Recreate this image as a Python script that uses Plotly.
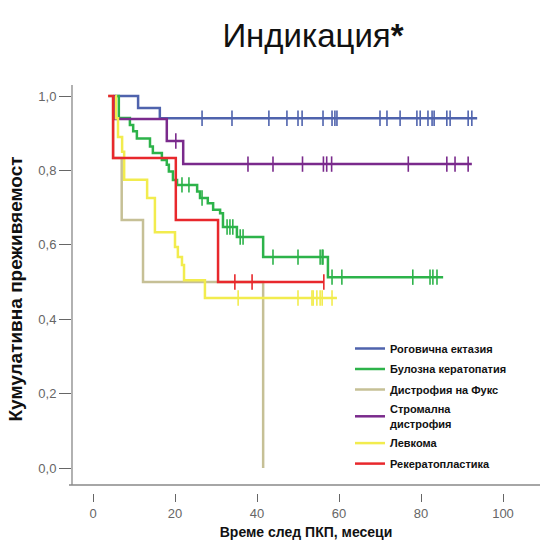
import plotly.graph_objects as go

# ---------------- data ----------------
names = ["Роговична ектазия", "Булозна кератопатия", "Дистрофия на Фукс",
         "Стромална<br>дистрофия", "Левкома", "Рекератопластика"]
colors = ["#4f63ad", "#2db34a", "#c6c096", "#7a2a8c", "#f2ec4e", "#e8282c"]

blue_t = [5.4, 11.0, 16.3, 93.7]
blue_s = [1.0, 0.968, 0.940, 0.940]
blue_c = [26.6, 33.9, 42.9, 47.3, 50.0, 51.0, 56.1, 58.3, 59.0, 59.5, 70.0, 71.7,
          74.9, 79.0, 79.8, 81.7, 82.7, 83.2, 86.3, 87.1, 91.5, 92.4]

green_t = [5.9, 6.3, 9.0, 9.8, 10.7, 13.9, 14.6, 16.8, 18.0, 18.5, 19.5, 20.5,
           25.4, 26.1, 28.0, 29.3, 31.0, 31.7, 35.1, 41.5, 57.3, 85.4]
green_s = [1.0, 0.941, 0.922, 0.905, 0.886, 0.864, 0.847, 0.828, 0.815, 0.797, 0.774, 0.761,
           0.743, 0.726, 0.712, 0.694, 0.685, 0.648, 0.621, 0.567, 0.513, 0.513]
green_c = [21.7, 23.4, 26.6, 32.7, 33.4, 34.1, 35.9, 36.6, 43.9, 50.0, 55.4, 55.9,
           56.1, 58.3, 60.7, 78.0, 82.2, 82.9, 83.9]

fuchs_t = [3.7, 4.9, 7.0, 12.2, 41.5]
fuchs_s = [1.0, 0.833, 0.667, 0.5, 0.0]
fuchs_c = []

purple_t = [5.0, 5.4, 18.0, 22.0, 92.4]
purple_s = [1.0, 0.938, 0.879, 0.817, 0.817]
purple_c = [20.2, 37.8, 43.9, 51.1, 56.2, 57.0, 58.2, 76.9, 86.3, 88.3, 91.5]

yellow_t = [5.4, 5.6, 6.1, 7.1, 7.6, 13.2, 15.1, 20.0, 20.7, 21.7, 22.2, 27.3, 59.5]
yellow_s = [1.0, 0.94, 0.89, 0.85, 0.775, 0.726, 0.634, 0.594, 0.567, 0.546, 0.505, 0.457, 0.457]
yellow_c = [35.4, 50.0, 53.4, 53.7, 54.6, 55.4, 55.9, 58.3]

red_t = [3.7, 4.9, 20.2, 30.5, 56.3]
red_s = [1.0, 0.833, 0.667, 0.5, 0.5]
red_c = [34.6, 38.8, 56.3]

x_ticks = [0, 20, 40, 60, 80, 100]
y_ticks = [0.0, 0.2, 0.4, 0.6, 0.8, 1.0]

series = [(blue_t, blue_s, blue_c), (green_t, green_s, green_c), (fuchs_t, fuchs_s, fuchs_c),
          (purple_t, purple_s, purple_c), (yellow_t, yellow_s, yellow_c), (red_t, red_s, red_c)]


def surv_at(ts, ss, t):
    v = ss[0]
    for ti, si in zip(ts, ss):
        if ti <= t:
            v = si
    return v


FONT = "Liberation Sans, Arial, sans-serif"
fig = go.Figure()
for i, (name, col, (ts, ss, cs)) in enumerate(zip(names, colors, series)):
    fig.add_trace(go.Scatter(x=ts, y=ss, mode="lines", line=dict(color=col, width=2.5, shape="hv"),
                             name="<b>" + name + "</b>", showlegend=True, legendgroup="g%d" % i))
for i, (name, col, (ts, ss, cs)) in enumerate(zip(names, colors, series)):
    if cs:
        fig.add_trace(go.Scatter(x=cs, y=[surv_at(ts, ss, c) for c in cs], mode="markers",
                                 marker=dict(symbol="line-ns-open", size=11, color=col,
                                             line=dict(color=col, width=1.6)),
                                 showlegend=False, hoverinfo="skip", legendgroup="g%d" % i))

# plot area: left 72px, right 540px, top 85px, bottom 493px
W, H = 540, 542
L, R, T, B = 72, 0, 85, 49
ph = H - T - B
x0 = (L - 93) / 4.1
x1 = (W - R - 93) / 4.1
y0 = (468 - (H - B)) / 372
y1 = (468 - T) / 372
frame_y = 8 / ph  # bottom frame line sits 8px above x tick start

fig.update_layout(
    width=W, height=H,
    margin=dict(l=L, r=R, t=T, b=B, pad=0),
    paper_bgcolor="white", plot_bgcolor="white",
    separators=",.",
    font=dict(family=FONT, color="#000"),
    title=dict(text="Индикация<b>*</b>", font=dict(family=FONT, size=33, color="#111"),
               x=313 / W, xanchor="center", y=1 - 35 / H, yanchor="middle", xref="container",
               yref="container"),
    xaxis=dict(range=[x0, x1], tickvals=x_ticks, ticktext=[str(v) for v in x_ticks],
               showgrid=False, zeroline=False, showline=False,
               ticks="outside", ticklen=8, tickwidth=1.3, tickcolor="#666",
               tickfont=dict(size=13, color="#666", family=FONT),
               title=dict(text="<b>Време след ПКП, месеци</b>",
                          font=dict(size=14, color="#111", family=FONT), standoff=7)),
    yaxis=dict(range=[y0, y1], tickvals=y_ticks, tickformat=".1f",
               showgrid=False, zeroline=False, showline=False,
               ticks="outside", ticklen=12, tickwidth=1.3, tickcolor="#666",
               tickfont=dict(size=13, color="#666", family=FONT),
               title=dict(text="<b>Кумулативна преживяемост</b>",
                          font=dict(size=19, color="#111", family=FONT), standoff=10)),
    legend=dict(x=(350 - L) / (W - L - R), xanchor="left", y=(H - B - 334) / ph, yanchor="top",
                bgcolor="rgba(0,0,0,0)", borderwidth=0, itemwidth=30,
                font=dict(size=11, color="#111", family=FONT), tracegroupgap=1.5,
                itemclick=False),
    shapes=[
        dict(type="line", xref="paper", yref="paper", x0=-3 / (W - L - R), x1=1, y0=frame_y, y1=frame_y,
             line=dict(color="#888", width=1.3)),
        dict(type="line", xref="paper", yref="paper", x0=0, x1=0, y0=frame_y, y1=1,
             line=dict(color="#888", width=1.3)),
    ],
)

fig.write_html("out.html")
